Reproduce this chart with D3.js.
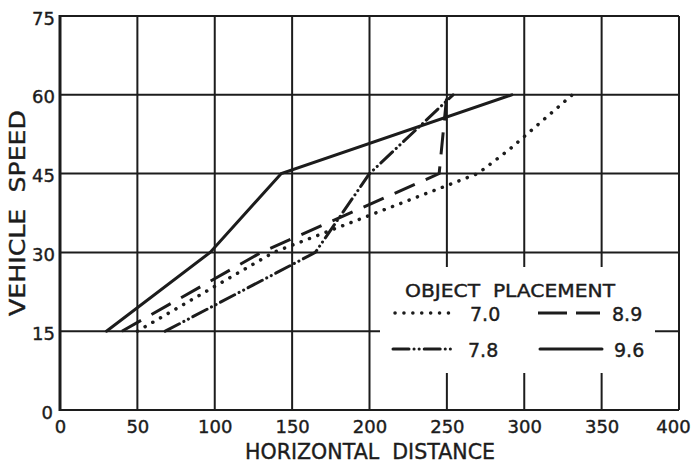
<!DOCTYPE html>
<meta charset="utf-8">
<style>
body { margin: 0; background: #fff; }
text { font-family: "DejaVu Sans", sans-serif; fill: #1c1c1c; stroke: #1c1c1c; stroke-width: 0.4; white-space: pre; }
.grid line { stroke: #1c1c1c; stroke-width: 2; }
.tick text { font-size: 18px; }
.series { fill: none; stroke: #1c1c1c; stroke-width: 3; }
</style>
<body>
<script src="https://cdn.jsdelivr.net/npm/d3@7"></script>
<script>

var width = 698,
    height = 463;

// distance at each vehicle speed
var xTicks = [0, 50, 100, 150, 200, 250, 300, 350, 400];
var yTicks = [0, 15, 30, 45, 60, 75];

var dist70 = [50, 138, 270, 290, 331],
    speed70 = [15, 30, 45, 49.5, 60];
var dist78 = [68, 165, 200, 254],
    speed78 = [15, 30, 45, 60];
var dist89 = [40, 130, 245, 250],
    speed89 = [15, 30, 45, 60];
var dist96 = [30, 97, 143, 292],
    speed96 = [15, 30, 45, 60];

var names = ["7.0", "7.8", "8.9", "9.6"];
var dashes = ["0.1,8.8", "16,5,0.1,5,0.1,5", "22,12", null];
var caps = ["round", "round", "butt", "round"];

var series = [
  { name: names[0], x: dist70, y: speed70 },
  { name: names[1], x: dist78, y: speed78 },
  { name: names[2], x: dist89, y: speed89 },
  { name: names[3], x: dist96, y: speed96 }
];

var x = d3.scaleLinear().domain([0, 400]).range([60, 679]);
var y = d3.scaleLinear().domain([0, 75]).range([410, 16]);

var svg = d3.select("body").append("svg")
    .attr("width", width)
    .attr("height", height);

// grid (also forms the frame)
var grid = svg.append("g").attr("class", "grid");
grid.selectAll(".v").data(xTicks).enter().append("line")
    .attr("x1", x).attr("x2", x)
    .attr("y1", y(0)).attr("y2", y(75));
grid.selectAll(".h").data(yTicks).enter().append("line")
    .attr("x1", x(0)).attr("x2", x(400))
    .attr("y1", y).attr("y2", y);
grid.append("line")
    .attr("x1", x(0)).attr("x2", x(0))
    .attr("y1", y(0) + 1).attr("y2", y(75) - 1)
    .style("stroke-width", 3);

var line = d3.line()
    .x(function(d) { return x(d[0]); })
    .y(function(d) { return y(d[1]); });

svg.selectAll(".series").data(series).enter().append("path")
    .attr("class", "series")
    .attr("d", function(s) { return line(d3.zip(s.x, s.y)); })
    .style("stroke-dasharray", function(s, i) { return dashes[i]; })
    .style("stroke-linecap", function(s, i) { return caps[i]; })
    .style("stroke-width", function(s, i) { return i == 0 ? 3.5 : 3; });

// axes: labels only
var xAxis = svg.append("g")
    .attr("transform", "translate(0," + y(0) + ")")
    .call(d3.axisBottom(x).tickValues(xTicks).tickSize(0).tickPadding(10));
xAxis.select(".domain").remove();
xAxis.selectAll(".tick text").attr("dy", "0.71em");
xAxis.selectAll(".tick").filter(function(d) { return d == 400; })
    .select("text").attr("dx", -6);

var yAxis = svg.append("g")
    .attr("transform", "translate(" + x(0) + ",0)")
    .call(d3.axisLeft(y).tickValues(yTicks).tickSize(0).tickPadding(5));
yAxis.select(".domain").remove();
yAxis.selectAll(".tick text").attr("dy", "0.45em");
yAxis.selectAll(".tick").filter(function(d) { return d == 0; })
    .select("text").attr("dx", -2);

svg.selectAll("g.tick text").style("fill", "#1c1c1c");

svg.append("text")
    .attr("x", 370).attr("y", 459)
    .attr("text-anchor", "middle")
    .attr("textLength", 250).attr("lengthAdjust", "spacingAndGlyphs")
    .style("font-size", "22px")
    .text("HORIZONTAL  DISTANCE");

svg.append("text")
    .attr("transform", "translate(25,213) rotate(-90)")
    .attr("text-anchor", "middle")
    .attr("textLength", 206).attr("lengthAdjust", "spacingAndGlyphs")
    .style("font-size", "22px")
    .text("VEHICLE  SPEED");

// legend
var legend = svg.append("g");
legend.append("rect")
    .attr("x", 380).attr("y", 267)
    .attr("width", 275).attr("height", 106)
    .style("fill", "#fff");
legend.append("text")
    .attr("x", 405).attr("y", 297)
    .attr("textLength", 210).attr("lengthAdjust", "spacingAndGlyphs")
    .style("font-size", "18px")
    .text("OBJECT  PLACEMENT");

var legendPos = [[395, 313], [393, 349], [538, 313], [540, 349]];
var item = legend.selectAll(".item").data(series).enter().append("g")
    .attr("transform", function(s, i) { return "translate(" + legendPos[i] + ")"; });
item.append("line")
    .attr("class", "series")
    .attr("x1", 0).attr("x2", 62)
    .attr("y1", 0).attr("y2", 0)
    .style("stroke-dasharray", function(s, i) { return i == 2 ? "29,9" : dashes[i]; })
    .style("stroke-linecap", function(s, i) { return caps[i]; })
    .style("stroke-width", function(s, i) { return i == 0 ? 3.5 : 3; });
item.append("text")
    .attr("x", function(s, i) { return i < 2 ? 75 : 74; })
    .attr("y", 8)
    .style("font-size", "19px")
    .text(function(s) { return s.name; });

</script>
</body>
</html>
